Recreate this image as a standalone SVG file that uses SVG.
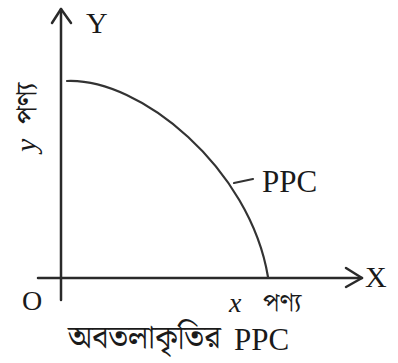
<svg xmlns="http://www.w3.org/2000/svg" width="398" height="363" viewBox="0 0 398 363">
<style>
.ax{stroke:#2a2a2a;stroke-width:2.5;fill:none;stroke-linecap:round;stroke-linejoin:round}
.cv{stroke:#333;stroke-width:2.2;fill:none;stroke-linecap:round}
.lt{font-family:"Liberation Serif","Times New Roman",serif;fill:#1a1a1a}
.bn{font-family:"Noto Serif Bengali","Noto Sans Bengali","Lohit Bengali","FreeSerif","Noto Sans",sans-serif;fill:#1a1a1a}
</style>
<g id="axes">
<path class="ax" d="M61,300 L61,9"/>
<path class="ax" d="M52,23 L61,9 L71,23"/>
<path class="ax" d="M38,278 L362,278"/>
<path class="ax" d="M346,268 L362,278 L346,287"/>
</g>
<g id="connectors">
<path class="cv" d="M67,81 C140,78 250,168 268,277"/>
<path class="cv" d="M234,183 L253,179"/>
</g>
<g id="labels">
<text class="lt" x="86" y="33" font-size="30">Y</text>
<text class="lt" x="365" y="287" font-size="30">X</text>
<text class="lt" x="22" y="310" font-size="28">O</text>
<text class="lt" x="262" y="192" font-size="31">PPC</text>
<text class="lt" x="229" y="312" font-size="28" font-style="italic">x</text>
<text class="bn" x="263" y="311" font-size="26">পণ্য</text>
<text class="bn" x="68" y="348" font-size="32">অবতলাকৃতির</text>
<text class="lt" x="234" y="350" font-size="31">PPC</text>
<g transform="translate(36,152) rotate(-90)">
<text class="lt" x="0" y="0" font-size="30" font-style="italic">y</text>
<text class="bn" x="28" y="0" font-size="28">পণ্য</text>
</g>
</g>
</svg>
